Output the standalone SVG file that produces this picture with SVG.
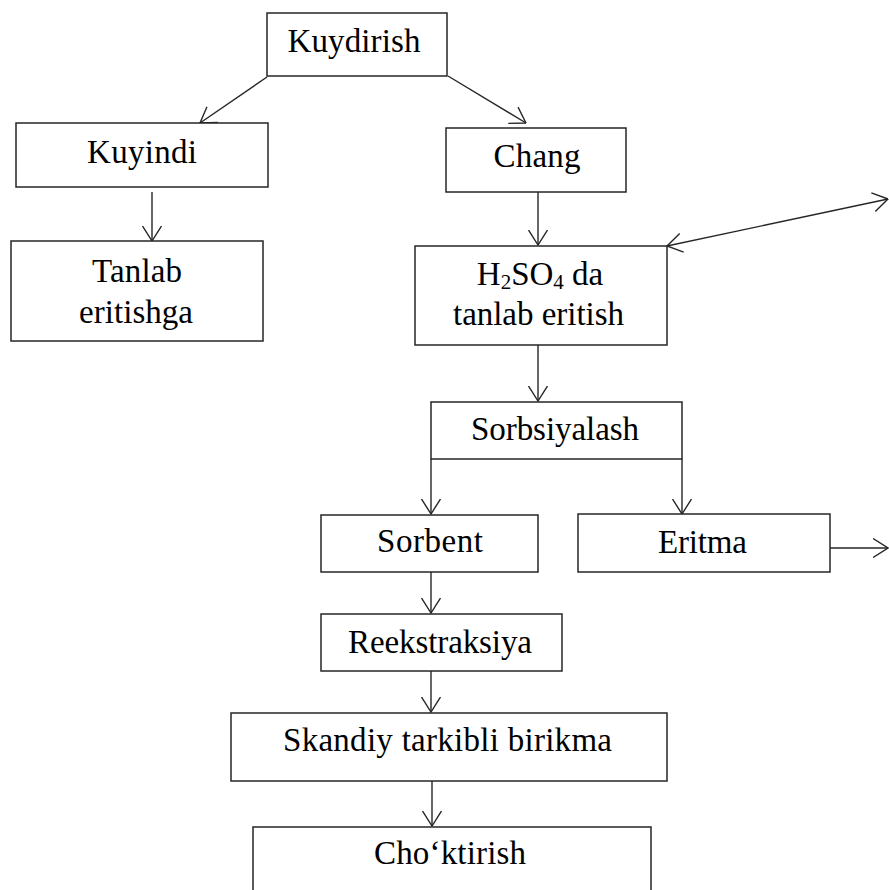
<svg xmlns="http://www.w3.org/2000/svg" width="889" height="890" viewBox="0 0 889 890">
<style>
.box{fill:#fff;stroke:#262626;stroke-width:1.5}
.t{font-family:"Liberation Serif","Times New Roman",serif;font-size:33px;fill:#000;text-anchor:middle}
.c line{stroke:#262626;stroke-width:1.4;fill:none}
</style>
<defs>
<marker id="ah" viewBox="0 0 16 20" refX="15.5" refY="10" markerWidth="16" markerHeight="20" markerUnits="userSpaceOnUse" orient="auto-start-reverse">
<path d="M0.5,0.5 L15.5,10 L0.5,19.5" fill="none" stroke="#262626" stroke-width="1.4"/>
</marker>
</defs>
<rect width="889" height="890" fill="#fff"/>
<g class="c" id="connectors">
<line x1="267" y1="77" x2="200" y2="123" marker-end="url(#ah)"/>
<line x1="448" y1="76" x2="526" y2="123" marker-end="url(#ah)"/>
<line x1="152" y1="192" x2="152" y2="241" marker-end="url(#ah)"/>
<line x1="538" y1="192" x2="538" y2="245" marker-end="url(#ah)"/>
<line x1="667" y1="246" x2="888" y2="199" marker-start="url(#ah)" marker-end="url(#ah)"/>
<line x1="538" y1="345" x2="538" y2="401" marker-end="url(#ah)"/>
<line x1="431" y1="459" x2="431" y2="514" marker-end="url(#ah)"/>
<line x1="682" y1="459" x2="682" y2="514" marker-end="url(#ah)"/>
<line x1="830" y1="548" x2="888" y2="548" marker-end="url(#ah)"/>
<line x1="431" y1="572" x2="431" y2="613" marker-end="url(#ah)"/>
<line x1="431" y1="671" x2="431" y2="712" marker-end="url(#ah)"/>
<line x1="432" y1="781" x2="432" y2="826" marker-end="url(#ah)"/>
</g>
<g id="kuydirish"><rect class="box" x="267" y="13" width="180" height="63"/><text class="t" x="354" y="52" textLength="133" lengthAdjust="spacing">Kuydirish</text></g>
<g id="kuyindi"><rect class="box" x="16" y="123" width="252" height="64"/><text class="t" x="142" y="163" textLength="110" lengthAdjust="spacing">Kuyindi</text></g>
<g id="tanlab"><rect class="box" x="11" y="241" width="252" height="100"/><text class="t" x="137" y="282" textLength="90" lengthAdjust="spacing">Tanlab</text><text class="t" x="136" y="323" textLength="114" lengthAdjust="spacing">eritishga</text></g>
<g id="chang"><rect class="box" x="446" y="128" width="180" height="64"/><text class="t" x="537" y="167" textLength="87" lengthAdjust="spacing">Chang</text></g>
<g id="h2so4"><rect class="box" x="415" y="246" width="252" height="99"/><text class="t" x="540" y="285">H<tspan font-size="21" dy="4">2</tspan><tspan dy="-4">SO</tspan><tspan font-size="21" dy="4">4</tspan><tspan dy="-4"> da</tspan></text><text class="t" x="538.5" y="325" textLength="171" lengthAdjust="spacing">tanlab eritish</text></g>
<g id="sorbsiyalash"><rect class="box" x="431" y="402" width="251" height="57"/><text class="t" x="555" y="440" textLength="168" lengthAdjust="spacing">Sorbsiyalash</text></g>
<g id="sorbent"><rect class="box" x="321" y="515" width="217" height="57"/><text class="t" x="430" y="552" textLength="106" lengthAdjust="spacing">Sorbent</text></g>
<g id="eritma"><rect class="box" x="578" y="514" width="252" height="58"/><text class="t" x="702.5" y="553" textLength="89" lengthAdjust="spacing">Eritma</text></g>
<g id="reekstraksiya"><rect class="box" x="321" y="614" width="241" height="57"/><text class="t" x="440" y="653" textLength="184" lengthAdjust="spacing">Reekstraksiya</text></g>
<g id="skandiy"><rect class="box" x="231" y="713" width="436" height="68"/><text class="t" x="447.5" y="751" textLength="329" lengthAdjust="spacing">Skandiy tarkibli birikma</text></g>
<g id="choktirish"><rect class="box" x="253" y="827" width="398" height="90"/><text class="t" x="450" y="864" textLength="152" lengthAdjust="spacing">Cho‘ktirish</text></g>
</svg>
